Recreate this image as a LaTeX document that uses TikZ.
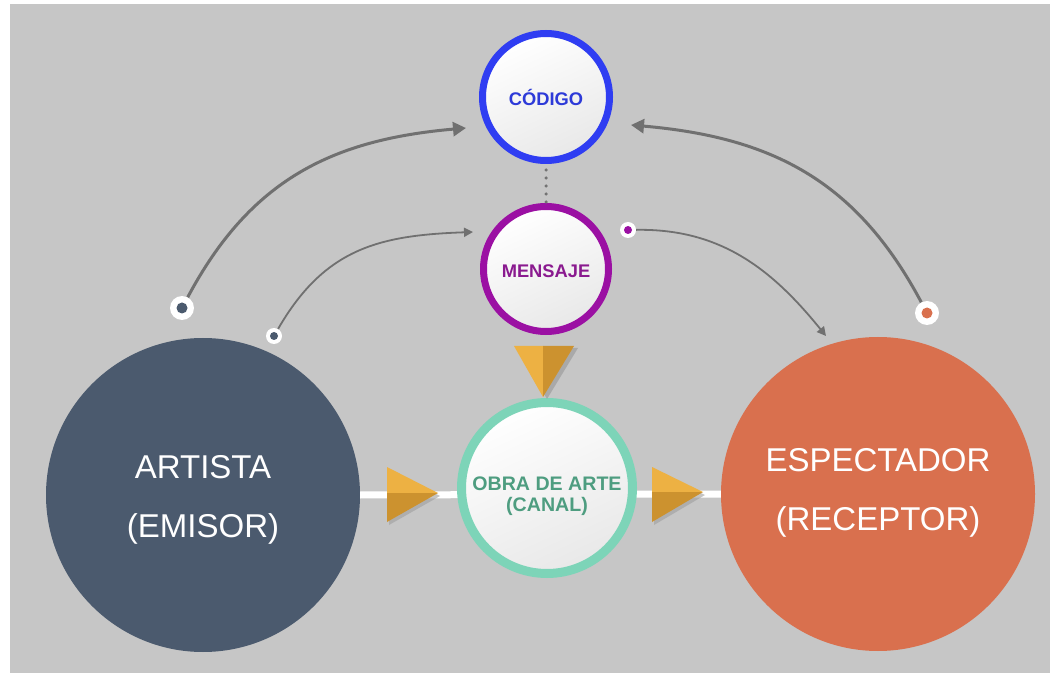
\documentclass[tikz,border=0pt]{standalone}
\usepackage{fontspec}
\setmainfont{Liberation Sans}
\usetikzlibrary{arrows.meta,shadows}
\definecolor{bg}{HTML}{C6C6C6}
\definecolor{artistac}{HTML}{4B5A6E}
\definecolor{espc}{HTML}{D9704E}
\definecolor{codc}{HTML}{2F3DF2}
\definecolor{codt}{HTML}{2D3AD8}
\definecolor{menc}{HTML}{9B10A3}
\definecolor{ment}{HTML}{8A1A8F}
\definecolor{obrac}{HTML}{7DD4B8}
\definecolor{obrat}{HTML}{4E9D80}
\definecolor{arrc}{HTML}{707070}
\definecolor{trilight}{HTML}{EDB143}
\definecolor{tridark}{HTML}{CC922F}
\definecolor{trishadow}{HTML}{9E9E9E}
\tikzset{
  bigc/.style={circle, minimum size=314pt, inner sep=0pt},
  bigtext/.style={inner sep=0pt, text=white, font=\fontsize{33}{59}\selectfont, align=center},
  ring/.style={circle, inner sep=0pt, align=center, top color=white,
    bottom color=black!9, shading angle=25,
    drop shadow={shadow xshift=1.5pt, shadow yshift=-2.5pt, opacity=0.22, fill=black}},
  smalltext/.style={inner sep=0pt, align=center, font=\bfseries\fontsize{18.3}{20}\selectfont},
  dotbig/.style={circle, fill=white, minimum size=24pt, inner sep=0pt},
  dotsmall/.style={circle, fill=white, minimum size=16pt, inner sep=0pt},
  arrthick/.style={draw=arrc, line width=3pt, -{Triangle[length=13pt,width=14pt]}},
  arrthin/.style={draw=arrc, line width=1.8pt, -{Triangle[length=9pt,width=9pt]}},
  dotline/.style={draw=black!55, line width=3.5pt, line cap=round, dash pattern=on 0pt off 8pt},
}
\begin{document}
\begin{tikzpicture}[x=1pt,y=1pt]
\useasboundingbox (0,0) rectangle (1050,673);
\fill[bg] (10,0) rectangle (1050,669);

% big circles
\node[bigc, fill=artistac] (artista) at (203,178) {};
\node[bigtext] (artistat) at ([yshift=-5pt]artista.center) {ARTISTA\\(EMISOR)};
\node[bigc, fill=espc] (espectador) at (878,179) {};
\node[bigtext] (espectadort) at ([yshift=1pt]espectador.center) {ESPECTADOR\\(RECEPTOR)};

% white channel line
\draw[white, line width=7pt] (artista.east) -- (espectador.west);

% small ring circles
\node[ring, draw=obrac, line width=9pt, minimum size=171pt] (obra) at (547,185) {};
\node[smalltext, text=obrat, font=\bfseries\fontsize{19.6}{21}\selectfont] (obrat) at ([yshift=-8pt]obra.center) {OBRA DE ARTE\\(CANAL)};
\node[ring, draw=codc, line width=7pt, minimum size=127pt] (codigo) at (546,576) {};
\node[smalltext, text=codt] (codigot) at (codigo.center) {CÓDIGO};
\node[ring, draw=menc, line width=7pt, minimum size=125pt] (mensaje) at (546,404) {};
\node[smalltext, text=ment] (mensajet) at ([yshift=-2pt]mensaje.center) {MENSAJE};

% dotted link
\draw[dotline] ([yshift=-6pt]codigo.south) -- (mensaje.north);

% triangles
\fill[trishadow, opacity=0.7] (518,325) -- (578,325) -- (547,274) -- cycle;
\fill[trilight] (514,327) -- (543,327) -- (543,276) -- cycle;
\fill[tridark] (543,327) -- (574,327) -- (543,276) -- cycle;

\fill[trishadow, opacity=0.6] (389,203) -- (389,148) -- (440,177) -- cycle;
\fill[trilight] (387,206) -- (438,180) -- (387,180) -- cycle;
\fill[tridark] (387,180) -- (438,180) -- (387,151) -- cycle;

\fill[trishadow, opacity=0.6] (654,203) -- (654,148) -- (705,178) -- cycle;
\fill[trilight] (652,206) -- (703,181) -- (652,181) -- cycle;
\fill[tridark] (652,181) -- (703,181) -- (652,151) -- cycle;

% marker dots
\node[dotbig] (dA) at (182,365) {};
\fill[artistac] (dA.center) circle (5.5);
\node[dotsmall] (dB) at (274,337) {};
\fill[artistac] (dB.center) circle (4);
\node[dotsmall] (dM) at (628,443) {};
\fill[menc] (dM.center) circle (4);
\node[dotbig] (dE) at (927,360) {};
\fill[espc] (dE.center) circle (5.5);

% arrow ends
\coordinate (e1) at (466,545);
\coordinate (e2) at (473,441);
\coordinate (e3) at (826,337);
\coordinate (e4) at (631,548);

\draw[arrthick] (dA) to[out=62,in=185,looseness=1.05] (e1);
\draw[arrthin] (dB) to[out=60,in=182,looseness=1.1] (e2);
\draw[arrthin] (dM) to[out=1,in=129] (e3);
\draw[arrthick] (dE) to[out=118,in=-5,looseness=1.05] (e4);
\end{tikzpicture}
\end{document}
